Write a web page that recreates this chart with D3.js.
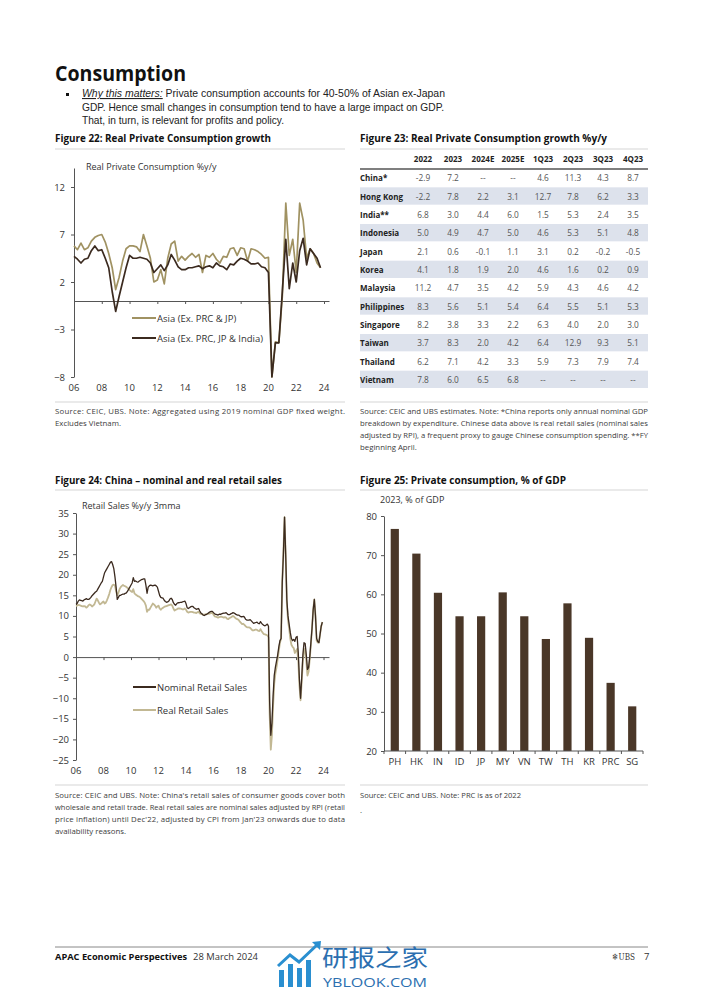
<!DOCTYPE html>
<html><head><meta charset="utf-8">
<script src="https://cdn.jsdelivr.net/npm/d3@7"></script>
<style>
html,body{margin:0;padding:0;background:#fff;}
svg{display:block;font-family:"Open Sans","Noto Sans",sans-serif;}
</style></head>
<body><svg id="page" width="702" height="992"></svg>
<script>
// ---------------- DATA ----------------
// Figure 22: quarterly, 2006Q1 .. 2023Q4
const fig22StartYear = 2006;
const asiaExPrcJp = [
 5.8,5.4,6.1,5.4, 5.6,6.3,6.7,6.9, 7.0,6.2,5.0,3.5, 1.2,2.5,4.2,5.5,
 5.8,5.8,5.7,5.2, 7.0,5.8,4.5,2.0, 2.2,3.3,1.8,4.5, 6.0,6.3,4.2,4.7,
 4.3,4.7,5.0,4.6, 4.9,3.0,4.8,4.6, 5.0,4.4,4.0,4.7, 4.6,5.5,5.6,4.8,
 5.6,5.5,4.2,5.5, 5.4,5.2,4.9,4.5, 4.6,-8.0,-4.3,-4.4, 0.5,10.3,4.8,6.5,
 3.0,10.3,8.5,4.5, 5.5,5.0,4.0,3.5];
const asiaExPrcJpIndia = [
 4.7,4.4,4.0,4.4, 4.5,5.3,5.8,5.3, 5.4,4.5,3.5,1.0, -1.1,0.5,2.0,3.5,
 4.8,4.5,4.5,4.6, 4.5,4.4,4.0,3.0, 3.4,3.8,3.2,3.8, 4.9,4.3,3.6,3.3,
 3.3,3.5,3.5,3.6, 3.7,3.4,3.6,3.7, 3.5,4.0,3.7,3.6, 3.3,3.9,3.8,4.2,
 4.5,4.4,4.2,3.9, 3.9,4.0,3.6,3.5, 3.0,-8.0,-4.4,-4.4, 1.0,6.5,1.3,4.0,
 2.0,5.3,6.6,3.8, 5.5,5.0,4.5,3.5];
const fig22YTicks = [-8,-3,2,7,12];
const fig22XTickLabels = ["06","08","10","12","14","16","18","20","22","24"];

// Figure 23 table
const tableColumns = ["2022","2023","2024E","2025E","1Q23","2Q23","3Q23","4Q23"];
const tableRows = ["China*","Hong Kong","India**","Indonesia","Japan","Korea","Malaysia","Philippines","Singapore","Taiwan","Thailand","Vietnam"];
const tableValues = [
 ["-2.9","7.2","--","--","4.6","11.3","4.3","8.7"],
 ["-2.2","7.8","2.2","3.1","12.7","7.8","6.2","3.3"],
 ["6.8","3.0","4.4","6.0","1.5","5.3","2.4","3.5"],
 ["5.0","4.9","4.7","5.0","4.6","5.3","5.1","4.8"],
 ["2.1","0.6","-0.1","1.1","3.1","0.2","-0.2","-0.5"],
 ["4.1","1.8","1.9","2.0","4.6","1.6","0.2","0.9"],
 ["11.2","4.7","3.5","4.2","5.9","4.3","4.6","4.2"],
 ["8.3","5.6","5.1","5.4","6.4","5.5","5.1","5.3"],
 ["8.2","3.8","3.3","2.2","6.3","4.0","2.0","3.0"],
 ["3.7","8.3","2.0","4.2","6.4","12.9","9.3","5.1"],
 ["6.2","7.1","4.2","3.3","5.9","7.3","7.9","7.4"],
 ["7.8","6.0","6.5","6.8","--","--","--","--"]];

// Figure 24: monthly 3mma, Jan 2006 .. Dec 2023
const fig24StartYear = 2006;
const nominalRetail = [
 12.8,13.0,13.6,13.9,13.8,13.7,13.6,13.9,14.0,14.2,14.0,14.0,
 14.2,14.5,14.9,15.2,15.5,15.8,16.0,16.5,17.0,17.5,18.0,18.4,
 19.5,20.5,21.0,21.5,22.0,22.5,23.0,23.2,22.5,21.5,19.5,17.0,
 14.0,14.5,15.0,15.0,15.2,15.3,15.3,15.5,15.6,16.0,16.5,17.0,
 17.5,18.0,19.3,18.4,18.5,18.3,18.2,18.4,18.6,18.8,18.9,19.0,
 19.0,17.5,15.5,17.0,17.3,17.5,17.4,17.3,17.4,17.5,17.3,17.0,
 16.0,15.0,14.5,14.4,14.3,13.8,13.5,13.3,13.4,13.6,14.1,14.3,
 14.0,13.2,12.8,12.6,13.0,13.2,13.2,13.3,13.3,13.4,13.5,13.6,
 13.0,12.0,11.8,12.0,12.2,12.3,12.3,12.0,11.8,11.6,11.7,11.8,
 11.2,10.7,10.5,10.2,10.1,10.3,10.4,10.6,10.8,11.0,11.1,11.1,
 10.8,10.5,10.4,10.3,10.2,10.4,10.4,10.5,10.6,10.7,10.7,10.8,
 10.5,10.3,10.3,10.5,10.6,10.8,10.7,10.5,10.3,10.2,10.2,10.0,
 9.8,9.8,9.9,9.7,9.2,9.0,9.0,9.0,9.1,8.8,8.5,8.2,
 8.3,8.4,8.5,8.2,8.1,8.6,8.2,7.9,7.7,7.6,7.8,8.0,
 7.5,-11.0,-19.0,-16.0,-9.5,-4.5,-2.5,-1.0,0.5,2.5,4.0,4.5,
 18.0,25.0,34.0,25.0,14.0,10.0,8.0,6.0,4.5,4.0,4.3,3.8,
 4.8,5.0,1.0,-5.5,-10.0,-5.0,0.5,3.5,3.3,0.5,-3.0,-2.5,
 0.0,3.5,7.0,11.5,14.0,10.0,4.5,3.8,3.5,5.5,7.5,8.5];
const realRetail = [
 12.4,12.5,12.7,12.6,12.5,12.4,12.3,12.4,12.3,12.0,12.2,12.6,
 12.8,12.6,12.3,12.5,12.8,13.5,14.2,13.8,13.2,12.8,13.0,13.3,
 13.5,13.0,13.2,13.8,14.5,15.3,16.3,17.0,17.5,17.6,17.4,16.0,
 15.0,15.6,16.5,17.0,17.3,17.5,17.3,17.2,17.0,16.8,16.5,16.2,
 16.0,15.8,16.5,15.5,15.2,15.0,14.8,14.7,14.5,14.2,13.9,13.6,
 13.2,12.5,11.0,11.5,11.5,12.0,12.5,13.0,12.8,12.5,12.0,12.3,
 12.5,11.8,11.5,11.8,12.0,12.2,12.3,12.4,12.5,12.6,12.7,12.8,
 12.5,11.8,11.3,11.5,11.6,11.8,11.8,11.8,11.7,11.6,11.6,11.8,
 11.5,11.0,10.8,10.9,11.0,11.0,10.9,10.8,10.8,10.7,10.9,11.0,
 10.6,10.5,10.4,10.3,10.3,10.4,10.4,10.5,10.5,10.6,10.7,10.8,
 10.3,9.9,9.8,9.7,9.6,9.7,9.8,9.8,9.7,9.6,9.7,9.6,
 9.3,9.2,9.5,9.6,9.8,10.0,9.8,9.5,9.3,9.2,9.0,8.6,
 8.3,8.0,8.1,7.8,7.5,7.3,7.2,7.2,7.1,6.8,6.5,6.5,
 6.6,6.7,6.6,6.4,6.3,6.8,6.3,5.9,5.6,5.5,5.4,5.3,
 4.8,-14.0,-22.5,-19.0,-12.0,-6.5,-4.0,-2.5,-0.5,1.5,3.5,4.5,
 18.5,25.5,34.0,24.5,13.0,9.0,7.0,4.5,3.0,2.5,2.2,1.0,
 1.5,2.0,-1.0,-7.0,-10.5,-6.0,-1.0,2.0,1.5,-1.0,-4.5,-3.5,
 -0.5,3.0,7.0,11.5,14.0,10.0,4.0,3.5,3.5,5.5,7.5,8.5];
const fig24YTicks = [-25,-20,-15,-10,-5,0,5,10,15,20,25,30,35];
const fig24XTickLabels = ["06","08","10","12","14","16","18","20","22","24"];

// Figure 25
const fig25Categories = ["PH","HK","IN","ID","JP","MY","VN","TW","TH","KR","PRC","SG"];
const fig25Values = [76.7,70.4,60.4,54.4,54.4,60.5,54.4,48.6,57.7,48.9,37.4,31.4];
const fig25YTicks = [20,30,40,50,60,70,80];

// ---------------- DRAW ----------------
const svg = d3.select("#page");
svg.append("rect").attr("width",702).attr("height",992).attr("fill","#fff");

const C = {text:"#222", note:"#3c3c3c", axis:"#555", olive:"#a09262", khaki:"#c2b893", dark:"#3b2a1f", bar:"#4a3728", shade:"#dde2ec"};

function fit(sel, w, mode){
  sel.each(function(){
    const L = this.getComputedTextLength();
    if (Math.abs(L - w) > 0.5){
      this.setAttribute("textLength", w);
      this.setAttribute("lengthAdjust", mode || "spacingAndGlyphs");
    }
  });
  return sel;
}
function txt(x,y,s,opt){
  opt = opt||{};
  const t = svg.append("text").attr("x",x).attr("y",y).text(s)
    .attr("font-size",opt.size||9).attr("fill",opt.fill||C.text)
    .attr("font-weight",opt.weight||"normal");
  if (opt.anchor) t.attr("text-anchor",opt.anchor);
  if (opt.family) t.attr("font-family",opt.family);
  if (opt.w) fit(t,opt.w,opt.mode);
  return t;
}
function hline(x1,x2,y,color,w){
  svg.append("line").attr("x1",x1).attr("x2",x2).attr("y1",y).attr("y2",y)
    .attr("stroke",color).attr("stroke-width",w||1);
}

// Heading
txt(55,81,"Consumption",{size:22,weight:"bold",fill:"#111",w:131});
const BF = "Liberation Sans, Arial, sans-serif";
svg.append("rect").attr("x",66).attr("y",93).attr("width",3).attr("height",3).attr("fill","#111");
const b1 = svg.append("text").attr("x",82).attr("y",97).attr("font-size",11).attr("fill","#222").attr("font-family",BF);
b1.append("tspan").attr("font-style","italic").attr("text-decoration","underline").text("Why this matters:");
b1.append("tspan").text(" Private consumption accounts for 40-50% of Asian ex-Japan");
fit(b1,363);
txt(82,110.5,"GDP. Hence small changes in consumption tend to have a large impact on GDP.",{size:11,family:BF,w:362});
txt(82,124,"That, in turn, is relevant for profits and policy.",{size:11,family:BF,w:202});

// Figure titles & separators
txt(55,142,"Figure 22: Real Private Consumption growth",{size:10.5,weight:"bold",fill:"#111",w:216});
txt(360,142,"Figure 23: Real Private Consumption growth %y/y",{size:10.5,weight:"bold",fill:"#111",w:247});
txt(55,484,"Figure 24: China \u2013 nominal and real retail sales",{size:10.5,weight:"bold",fill:"#111",w:227});
txt(360,484,"Figure 25: Private consumption, % of GDP",{size:10.5,weight:"bold",fill:"#111",w:206});
hline(55,345,149,"#e3e3e3",1.5); hline(360,648,149,"#e3e3e3",1.5);
hline(55,345,490,"#e3e3e3",1.5); hline(360,648,490,"#e3e3e3",1.5);
hline(55,345,402,"#e3e3e3",1.5); hline(360,648,402,"#e3e3e3",1.5);
hline(55,345,785,"#e3e3e3",1.5); hline(360,648,785,"#e3e3e3",1.5);

// Notes
function note(x,y,lines,w){
  lines.forEach((s,i)=>{
    const t = txt(x,y+i*12,s,{size:7.8,fill:C.note});
    if (i < lines.length-1){
      const L = t.node().getComputedTextLength();
      fit(t,w, L < w ? "spacing" : "spacingAndGlyphs");
    }
  });
}
note(55,414,["Source: CEIC, UBS. Note: Aggregated using 2019 nominal GDP fixed weight.","Excludes Vietnam."],290);
note(360,414,["Source: CEIC and UBS estimates. Note: *China reports only annual nominal GDP",
 "breakdown by expenditure. Chinese data above is real retail sales (nominal sales",
 "adjusted by RPI), a frequent proxy to gauge Chinese consumption spending. **FY",
 "beginning April."],288);
note(55,798,["Source: CEIC and UBS. Note: China's retail sales of consumer goods cover both",
 "wholesale and retail trade. Real retail sales are nominal sales adjusted by RPI (retail",
 "price inflation) until Dec'22, adjusted by CPI from Jan'23 onwards due to data",
 "availability reasons."],290);
txt(360,798,"Source: CEIC and UBS. Note: PRC is as of 2022",{size:7.8,fill:C.note,w:161});
txt(360,813,".",{size:7.8,fill:C.note});

function styleAxis(g){
  g.selectAll("path,line").attr("stroke",C.axis).attr("stroke-width",1);
  g.selectAll("text").attr("fill","#333").attr("font-size",9.5).attr("font-family","Open Sans, sans-serif");
}

// ---------- Figure 22 ----------
(function(){
  const x = d3.scaleLinear().domain([2006,2024.36]).range([74,329]);
  const y = d3.scaleLinear().domain([-8,14]).range([377,168]);
  const t = i => fig22StartYear + i/4;
  txt(86,170,"Real Private Consumption %y/y",{size:9,fill:"#333"});
  const ya = svg.append("g").attr("transform","translate(74,0)")
    .call(d3.axisLeft(y).tickValues(fig22YTicks).tickSize(3).tickSizeOuter(0).tickPadding(6).tickFormat(d3.format("d")));
  styleAxis(ya);
  const years = fig22XTickLabels.map(s=>2000+ +s);
  const xa = svg.append("g").attr("transform",`translate(0,${y(0)})`)
    .call(d3.axisBottom(x).tickValues(years).tickSize(3).tickSizeOuter(0).tickFormat(""));
  styleAxis(xa);
  svg.append("g").selectAll("text").data(fig22XTickLabels).join("text")
    .attr("x",d=>x(2000+ +d)).attr("y",391).attr("text-anchor","middle")
    .attr("font-size",9.5).attr("fill","#333").text(d=>d);
  const line = d3.line().x((d,i)=>x(t(i))).y(d=>y(d));
  svg.append("path").datum(asiaExPrcJp).attr("d",line).attr("fill","none").attr("stroke",C.olive).attr("stroke-width",1.7).attr("stroke-linejoin","round");
  svg.append("path").datum(asiaExPrcJpIndia).attr("d",line).attr("fill","none").attr("stroke",C.dark).attr("stroke-width",1.7).attr("stroke-linejoin","round");
  const leg = [["Asia (Ex. PRC & JP)",C.olive,318],["Asia (Ex. PRC, JP & India)",C.dark,338]];
  leg.forEach(([s,c,yy])=>{
    hline(132,156,yy,c,2);
    txt(157,yy+3.5,s,{size:9.5,fill:"#333"});
  });
})();

// ---------- Figure 23 table ----------
(function(){
  const cx = d3.scalePoint().domain(tableColumns).range([423,633]);
  const ry = d3.scaleBand().domain(tableRows).range([169,389]);
  svg.append("g").selectAll("rect").data(tableRows.filter((d,i)=>i%2===1)).join("rect")
    .attr("x",360).attr("width",288).attr("y",d=>ry(d)).attr("height",ry.bandwidth()-1)
    .attr("fill",C.shade);
  svg.append("g").selectAll("text").data(tableColumns).join("text")
    .attr("x",d=>cx(d)).attr("y",162).attr("text-anchor","middle").attr("font-size",8)
    .attr("font-weight","bold").attr("fill","#222").text(d=>d);
  hline(360,648,169,"#555",1.5);
  tableRows.forEach((r,i)=>{
    const yy = ry(r)+ry.bandwidth()/2+3;
    txt(360,yy,r,{size:8,weight:"bold",fill:"#222"});
    svg.append("g").selectAll("text").data(tableValues[i]).join("text")
      .attr("x",(d,j)=>cx(tableColumns[j])).attr("y",yy).attr("text-anchor","middle")
      .attr("font-size",8.3).attr("fill","#555").text(d=>d);
  });
})();

// ---------- Figure 24 ----------
(function(){
  const x = d3.scaleLinear().domain([2006,2024.4]).range([76,329]);
  const y = d3.scaleLinear().domain([-25,35]).range([760,513]);
  const t = i => fig24StartYear + i/12;
  txt(82,509,"Retail Sales %y/y 3mma",{size:9,fill:"#333"});
  const ya = svg.append("g").attr("transform","translate(76,0)")
    .call(d3.axisLeft(y).tickValues(fig24YTicks).tickSize(3).tickSizeOuter(0).tickPadding(4).tickFormat(d3.format("d")));
  styleAxis(ya);
  const years = fig24XTickLabels.map(s=>2000+ +s);
  const xa = svg.append("g").attr("transform",`translate(0,${y(0)})`)
    .call(d3.axisBottom(x).tickValues(years).tickSize(3).tickSizeOuter(0).tickFormat(""));
  styleAxis(xa);
  svg.append("g").selectAll("text").data(fig24XTickLabels).join("text")
    .attr("x",d=>x(2000+ +d)).attr("y",774).attr("text-anchor","middle")
    .attr("font-size",9.5).attr("fill","#333").text(d=>d);
  const line = d3.line().x((d,i)=>x(t(i))).y(d=>y(d));
  svg.append("path").datum(realRetail).attr("d",line).attr("fill","none").attr("stroke",C.khaki).attr("stroke-width",1.8).attr("stroke-linejoin","round");
  svg.append("path").datum(nominalRetail).attr("d",line).attr("fill","none").attr("stroke",C.dark).attr("stroke-width",1.3).attr("stroke-linejoin","round");
  const leg = [["Nominal Retail Sales",C.dark,687],["Real Retail Sales",C.khaki,710]];
  leg.forEach(([s,c,yy])=>{
    hline(133,156,yy,c,2);
    txt(157,yy+3.5,s,{size:9.5,fill:"#333"});
  });
})();

// ---------- Figure 25 ----------
(function(){
  const x = d3.scaleBand().domain(fig25Categories).range([384,643]).paddingInner(0.62).paddingOuter(0.31);
  const y = d3.scaleLinear().domain([20,80]).range([751,516]);
  txt(380,503,"2023, % of GDP",{size:9,fill:"#333"});
  svg.append("g").selectAll("rect").data(fig25Categories).join("rect")
    .attr("x",d=>x(d)).attr("width",x.bandwidth())
    .attr("y",(d,i)=>y(fig25Values[i])).attr("height",(d,i)=>y(20)-y(fig25Values[i]))
    .attr("fill",C.bar);
  const ya = svg.append("g").attr("transform","translate(384,0)")
    .call(d3.axisLeft(y).tickValues(fig25YTicks).tickSize(3).tickSizeOuter(0).tickPadding(4));
  styleAxis(ya);
  hline(384,643,y(20),C.axis,1);
  const gap = (x.step()-x.bandwidth())/2;
  const bounds = fig25Categories.map(d=>x(d)-gap).concat([x(fig25Categories[fig25Categories.length-1])+x.bandwidth()+gap]);
  svg.append("g").selectAll("line").data(bounds).join("line")
    .attr("x1",d=>d).attr("x2",d=>d).attr("y1",y(20)).attr("y2",y(20)+3).attr("stroke",C.axis);
  svg.append("g").selectAll("text").data(fig25Categories).join("text")
    .attr("x",d=>x(d)+x.bandwidth()/2).attr("y",765).attr("text-anchor","middle")
    .attr("font-size",9.5).attr("fill","#333").text(d=>d);
})();

// ---------- Footer ----------
hline(55,648,947,"#888",1);
txt(55,960,"APAC Economic Perspectives",{size:9.5,weight:"bold",fill:"#111",w:132});
txt(193,960,"28 March 2024",{size:9.5,fill:"#333",w:65});
txt(612,960,"\u2744UBS",{size:9,fill:"#333",family:"DejaVu Serif",w:23});
txt(644,960,"7",{size:9.5,fill:"#333"});
// watermark
const wm = svg.append("g");
[[279,970,5,17],[288,964,5,23],[297,968,5,19],[306,960,5,27]].forEach(([xx,yy,w,h])=>{
  wm.append("rect").attr("x",xx).attr("y",yy).attr("width",w).attr("height",h).attr("fill","#2a8fd0");
});
wm.append("path").attr("d","M278,966 L290,955 L299,962 L318,944").attr("fill","none").attr("stroke","#2a8fd0").attr("stroke-width",3);
wm.append("path").attr("d","M312,942 L321,941 L320,950 Z").attr("fill","#2a8fd0");
txt(322,966,"研报之家",{size:23,fill:"#2c6fb0",family:"Noto Sans CJK SC",w:106});
txt(323,987,"YBLOOK.COM",{size:12,fill:"#2c6fb0",w:104});
</script></body></html>
